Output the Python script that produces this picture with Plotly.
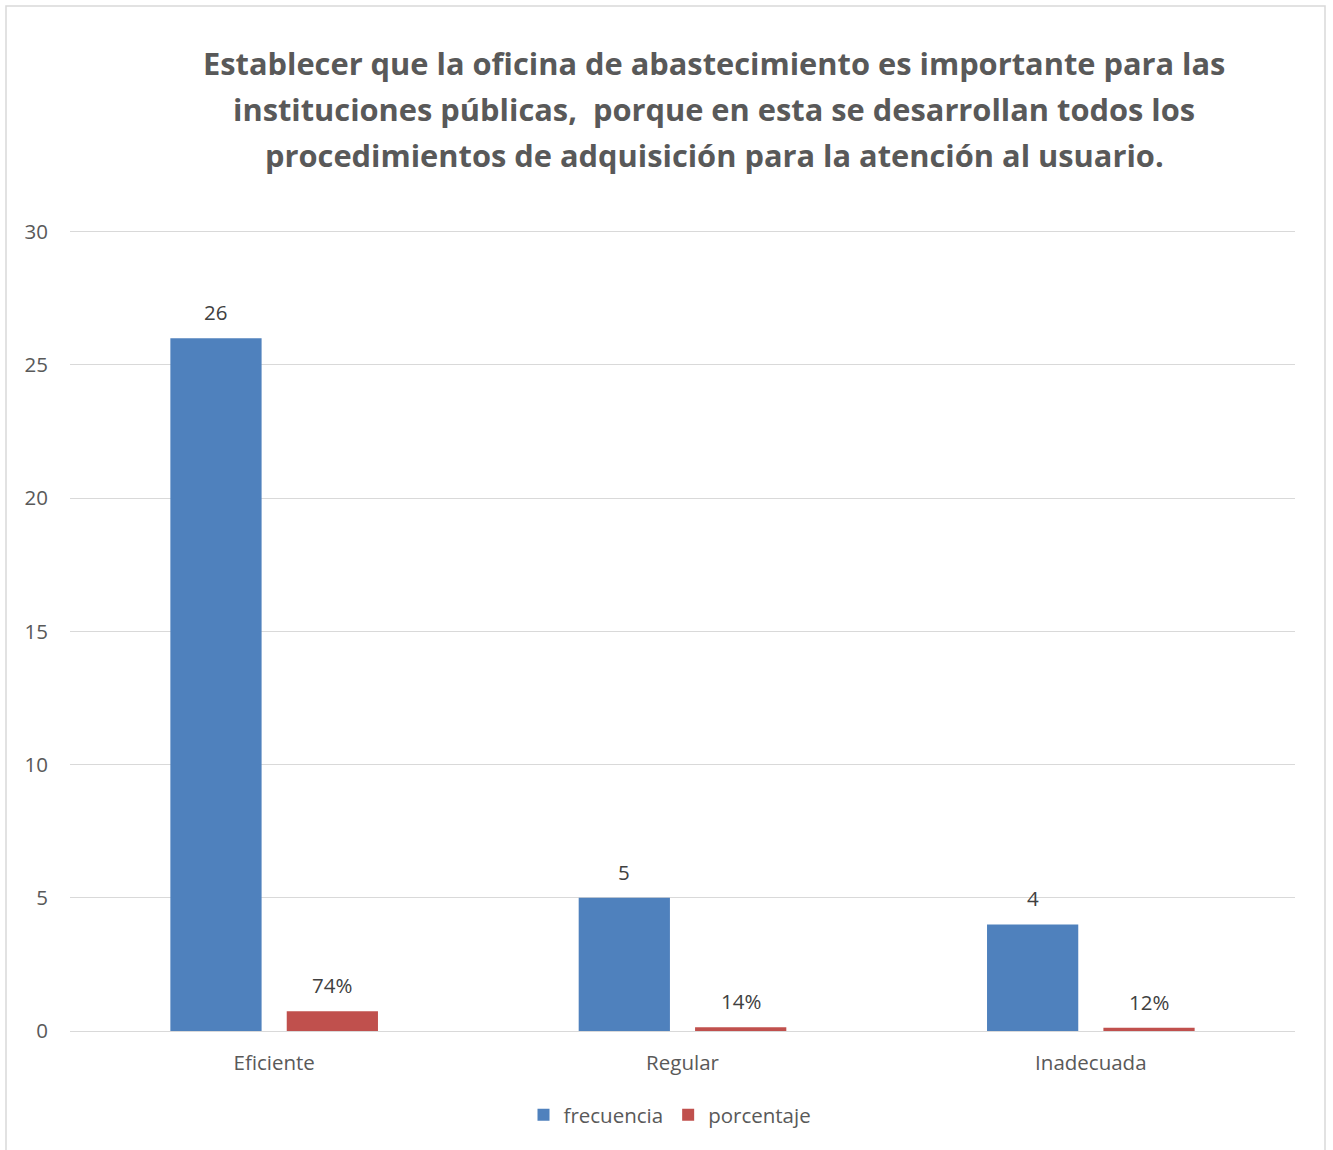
import plotly.graph_objects as go

categories = ["Eficiente", "Regular", "Inadecuada"]
frecuencia = [26, 5, 4]
porcentaje = [0.74, 0.14, 0.12]
title_lines = [
    "Establecer que la oficina de abastecimiento es importante para las",
    "instituciones públicas,  porque en esta se desarrollan todos los",
    "procedimientos de adquisición para la atención al usuario.",
]

FONT = "Open Sans"
GRAY = "#595959"
LBL = "#404040"
FS = 20.5

fig = go.Figure()
fig.add_trace(go.Bar(name="frecuencia", x=categories, y=frecuencia,
                     marker=dict(color="#4F81BD", line=dict(width=0))))
fig.add_trace(go.Bar(name="porcentaje", x=categories, y=porcentaje,
                     marker=dict(color="#C0504D", line=dict(width=0))))

L, R, T, B = 70, 38, 229, 119
W, H = 1333, 1150
pw, ph = W - L - R, H - T - B

def px(x):
    return (x - L) / pw

def py(y):
    return (H - B - y) / ph

annotations = []
for i, line in enumerate(title_lines):
    annotations.append(dict(text=line, xref="paper", yref="paper",
                            x=px(714), y=py(63 + 46 * i), xanchor="center", yanchor="middle",
                            showarrow=False,
                            font=dict(family=FONT, size=30.8, color=GRAY, weight="bold")))

slot = pw / 3 * (1 - 0.43) / 2
for c, v in zip(categories, frecuencia):
    annotations.append(dict(text=str(v), x=c, y=v, xref="x", yref="y", xshift=-slot / 2,
                            yshift=26, yanchor="middle", showarrow=False,
                            font=dict(family=FONT, size=FS, color=LBL)))
for c, v in zip(categories, porcentaje):
    annotations.append(dict(text=f"{round(v * 100)}%", x=c, y=v, xref="x", yref="y", xshift=slot / 2,
                            yshift=26, yanchor="middle", showarrow=False,
                            font=dict(family=FONT, size=FS, color=LBL)))

fig.update_layout(
    width=W, height=H,
    margin=dict(l=L, r=R, t=T, b=B),
    paper_bgcolor="white", plot_bgcolor="white",
    barmode="group", bargap=0.43, bargroupgap=0.216,
    font=dict(family=FONT, size=FS, color=GRAY),
    showlegend=True,
    legend=dict(orientation="h", x=px(670), xanchor="center", y=py(1115), yanchor="middle",
                font=dict(family=FONT, size=FS, color=GRAY), itemwidth=30),
    xaxis=dict(showgrid=False, showline=False, ticks="", ticklabelstandoff=17,
               tickfont=dict(family=FONT, size=FS, color=GRAY)),
    yaxis=dict(range=[0, 30.1], tickvals=[0, 5, 10, 15, 20, 25, 30], showgrid=True,
               gridcolor="#d9d9d9", gridwidth=1.4,
               zeroline=True, zerolinecolor="#d9d9d9", zerolinewidth=1.4, showline=False,
               ticklabelstandoff=21, tickfont=dict(family=FONT, size=FS, color=GRAY)),
    shapes=[dict(type="rect", xref="paper", yref="paper",
                 x0=px(6), x1=px(1325), y0=py(1165), y1=py(6),
                 line=dict(color="#d9d9d9", width=1.5), fillcolor="rgba(0,0,0,0)", layer="below")],
    annotations=annotations,
)

fig.write_html("out.html", config={"displayModeBar": False},
               post_script="document.body.style.margin='0';")
